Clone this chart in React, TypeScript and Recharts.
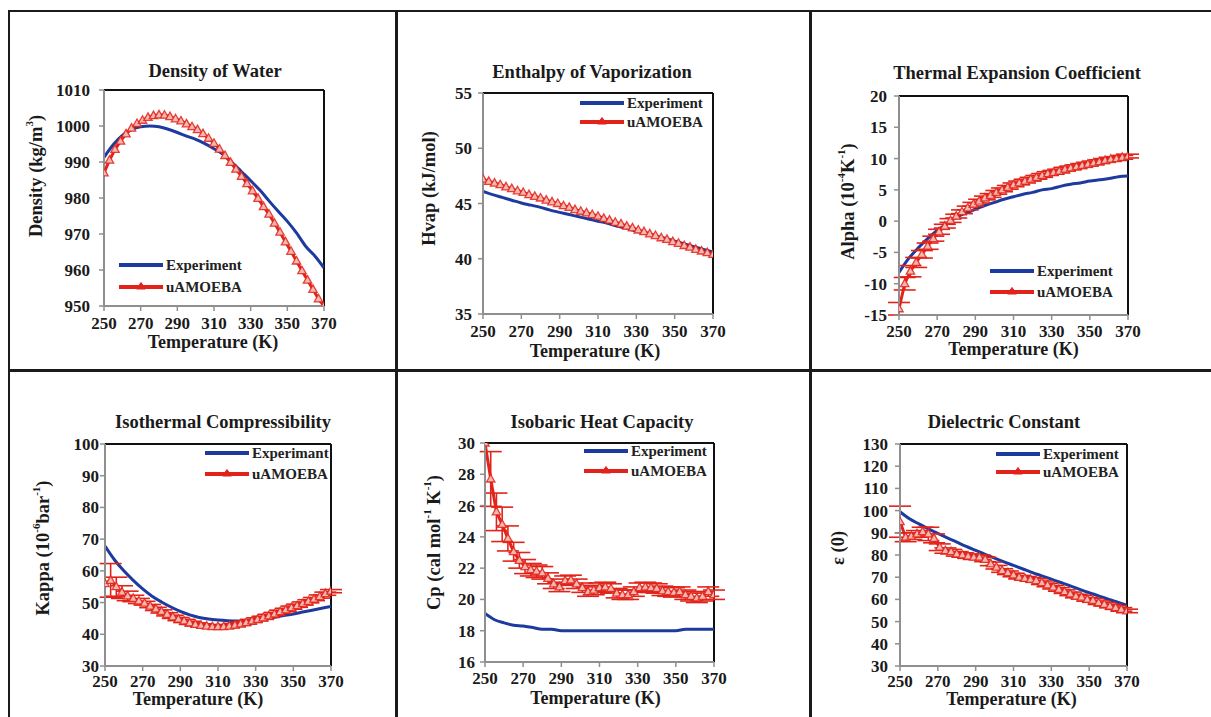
import { LineChart, Line, XAxis, YAxis, ErrorBar, ReferenceLine, Legend } from "recharts";

const FONT = '"Liberation Serif", "Times New Roman", serif';
const BLUE = "#1d3a9e";
const RED = "#e2231a";
const AXIS_GRAY = "#8f8f8f";

const tempTicks = [250, 270, 290, 310, 330, 350, 370];

// experiment curves are sampled every 5 K, simulation every 3 K
const expTemps = [250, 255, 260, 265, 270, 275, 280, 285, 290, 295, 300, 305, 310, 315, 320, 325, 330, 335, 340, 345, 350, 355, 360, 365, 370];
const simTemps = [250, 253, 256, 259, 262, 265, 268, 271, 274, 277, 280, 283, 286, 289, 292, 295, 298, 301, 304, 307, 310, 313, 316, 319, 322, 325, 328, 331, 334, 337, 340, 343, 346, 349, 352, 355, 358, 361, 364, 367, 370];

const densityExp = [991.3, 994.8, 997.4, 999.0, 999.8, 1000.0, 999.8, 999.1, 998.2, 997.2, 996.3, 995.1, 993.7, 992.1, 989.8, 987.3, 984.8, 982.2, 979.2, 976.3, 973.5, 970.3, 966.6, 963.9, 960.6];
const densitySim = [987.0, 990.5, 993.5, 995.8, 997.8, 999.4, 1000.7, 1001.6, 1002.4, 1002.9, 1003.1, 1003.0, 1002.6, 1002.0, 1001.4, 1000.6, 999.8, 999.0, 997.9, 996.6, 995.2, 993.6, 991.8, 989.9, 988.0, 986.0, 984.0, 982.0, 979.9, 977.6, 975.5, 973.0, 970.5, 967.8, 965.2, 962.5, 959.8, 957.2, 954.6, 952.0, 950.0];

const hvapExp = [46.1, 45.8, 45.55, 45.3, 45.05, 44.85, 44.65, 44.4, 44.2, 44.0, 43.8, 43.6, 43.4, 43.2, 42.95, 42.75, 42.5, 42.3, 42.05, 41.85, 41.6, 41.35, 41.1, 40.85, 40.6];
const hvapSim = [47.2, 47.0, 46.85, 46.7, 46.5, 46.35, 46.15, 46.0, 45.8, 45.65, 45.5, 45.3, 45.15, 45.0, 44.8, 44.65, 44.45, 44.3, 44.15, 44.0, 43.85, 43.65, 43.5, 43.3, 43.15, 42.95, 42.8, 42.6, 42.45, 42.25, 42.1, 41.9, 41.75, 41.55, 41.4, 41.2, 41.05, 40.85, 40.7, 40.55, 40.4];

const alphaExp = [-8.2, -6.0, -4.3, -2.8, -1.5, -0.4, 0.6, 1.3, 1.9, 2.5, 3.0, 3.5, 3.9, 4.3, 4.6, 5.0, 5.2, 5.6, 5.9, 6.1, 6.4, 6.6, 6.8, 7.1, 7.2];
const alphaSim = [-14.0, -10.0, -8.0, -6.6, -5.3, -4.0, -2.8, -1.7, -0.8, 0.1, 0.8, 1.5, 2.1, 2.7, 3.2, 3.7, 4.1, 4.6, 5.0, 5.4, 5.8, 6.1, 6.4, 6.7, 7.0, 7.3, 7.6, 7.8, 8.0, 8.3, 8.5, 8.7, 8.9, 9.1, 9.3, 9.5, 9.7, 9.9, 10.0, 10.2, 10.4];
const alphaErr = [1.0, 1.0, 0.9, 0.8, 0.6, 0.5, 0.4, 0.4, 0.3, 0.3, 0.3, 0.3, 0.3, 0.3, 0.3, 0.3, 0.3, 0.3, 0.3, 0.3, 0.3, 0.3, 0.3, 0.3, 0.3, 0.3, 0.3, 0.3, 0.3, 0.3, 0.3, 0.3, 0.3, 0.3, 0.3, 0.3, 0.3, 0.3, 0.3, 0.3, 0.3];

const kappaExp = [67.8, 63.5, 60.0, 57.0, 54.3, 52.0, 50.2, 48.6, 47.2, 46.1, 45.3, 44.8, 44.5, 44.3, 44.2, 44.3, 44.6, 45.0, 45.4, 45.9, 46.4, 47.0, 47.6, 48.2, 48.8];
const kappaSim = [56.0, 57.0, 55.0, 53.3, 52.1, 51.3, 50.5, 49.8, 48.9, 48.0, 47.2, 46.3, 45.5, 44.8, 44.2, 43.6, 43.1, 42.8, 42.6, 42.4, 42.4, 42.4, 42.6, 42.9, 43.3, 43.7, 44.2, 44.7, 45.2, 45.8, 46.4, 47.1, 47.7, 48.4, 49.0, 49.7, 50.4, 51.1, 51.9, 52.8, 53.6];
const kappaErr = [0, 5.3, 3.0, 2.0, 1.5, 1.0, 0.8, 0.6, 0.5, 0.5, 0.5, 0.5, 0.5, 0.5, 0.5, 0.5, 0.5, 0.5, 0.5, 0.5, 0.5, 0.5, 0.5, 0.5, 0.5, 0.5, 0.5, 0.5, 0.5, 0.5, 0.5, 0.5, 0.5, 0.5, 0.5, 0.5, 0.5, 0.5, 0.5, 0.5, 0.5];

const cpExp = [19.1, 18.7, 18.5, 18.35, 18.3, 18.2, 18.1, 18.1, 18.0, 18.0, 18.0, 18.0, 18.0, 18.0, 18.0, 18.0, 18.0, 18.0, 18.0, 18.0, 18.0, 18.1, 18.1, 18.1, 18.1];
const cpSim = [30.0, 27.7, 25.6, 24.8, 23.9, 23.05, 22.5, 22.1, 21.9, 21.8, 21.7, 21.35, 21.0, 20.8, 21.2, 21.25, 21.0, 20.75, 20.5, 20.6, 20.75, 20.8, 20.7, 20.4, 20.3, 20.3, 20.5, 20.75, 20.8, 20.75, 20.7, 20.55, 20.5, 20.45, 20.5, 20.3, 20.2, 20.1, 20.2, 20.5, 20.3];
const cpErr = [0, 1.75, 1.2, 1.1, 0.8, 0.6, 0.5, 0.45, 0.4, 0.4, 0.4, 0.35, 0.3, 0.3, 0.3, 0.3, 0.3, 0.3, 0.3, 0.3, 0.3, 0.3, 0.3, 0.3, 0.3, 0.3, 0.3, 0.3, 0.3, 0.3, 0.3, 0.3, 0.3, 0.3, 0.3, 0.3, 0.3, 0.3, 0.3, 0.3, 0.3];

const epsExp = [99.5, 96.3, 94.0, 91.8, 89.7, 87.7, 85.8, 83.9, 82.1, 80.3, 78.6, 76.9, 75.3, 73.7, 72.1, 70.6, 69.1, 67.6, 66.1, 64.5, 63.0, 61.6, 60.1, 58.7, 57.3];
const epsSim = [95.0, 88.0, 88.5, 89.5, 90.5, 89.5, 87.5, 83.5, 82.0, 81.5, 80.5, 80.0, 79.5, 79.0, 79.0, 78.0, 76.0, 74.5, 73.0, 72.0, 71.0, 70.0, 69.5, 69.0, 68.5, 67.5, 66.5, 65.5, 64.5, 63.5, 62.5, 61.5, 61.0, 60.0, 59.5, 58.5, 57.8, 57.0, 56.3, 55.5, 54.8];
const epsErr = [7.0, 2.0, 1.5, 1.5, 2.0, 3.0, 2.0, 1.5, 1.2, 1.0, 1.0, 1.0, 1.0, 1.0, 1.0, 1.0, 0.8, 0.8, 0.8, 0.8, 0.8, 0.8, 0.8, 0.8, 0.8, 0.8, 0.8, 0.8, 0.8, 0.8, 0.8, 0.8, 0.8, 0.8, 0.8, 0.8, 0.8, 0.8, 0.8, 0.8, 0.8];

type Part = { t: string; sup?: boolean };

interface PanelCfg {
  title: string;
  yLabel: Part[];
  expName: string;
  exp: number[];
  sim: number[];
  simErr?: number[];
  yDomain: [number, number];
  yTicks: number[];
  x0: number; y0: number; x1: number; y1: number;
  titleDx: number; titleDy: number;
  yLabDx: number; yLabDy: number;
  xLabDx: number; xLabDy: number;
  yTickMargin: number; xTickMargin: number;
  legX: number; legY: number; legRow: number;
}

const panels: PanelCfg[] = [
  {
    title: "Density of Water",
    yLabel: [{ t: "Density (kg/m" }, { t: "3", sup: true }, { t: ")" }],
    expName: "Experiment", exp: densityExp, sim: densitySim,
    yDomain: [950, 1010], yTicks: [950, 960, 970, 980, 990, 1000, 1010],
    x0: 104, y0: 90, x1: 324, y1: 306,
    titleDx: 1, titleDy: -19, yLabDx: -68, yLabDy: -22, xLabDx: -1, xLabDy: 36,
    yTickMargin: 9, xTickMargin: 6, legX: 119, legY: 265, legRow: 22,
  },
  {
    title: "Enthalpy of Vaporization",
    yLabel: [{ t: "Hvap (kJ/mol)" }],
    expName: "Experiment", exp: hvapExp, sim: hvapSim,
    yDomain: [35, 55], yTicks: [35, 40, 45, 50, 55],
    x0: 483, y0: 93, x1: 713, y1: 314,
    titleDx: -6, titleDy: -21, yLabDx: -54, yLabDy: -15, xLabDx: -3, xLabDy: 37,
    yTickMargin: 6, xTickMargin: 6, legX: 580, legY: 103, legRow: 19,
  },
  {
    title: "Thermal Expansion Coefficient",
    yLabel: [{ t: "Alpha (10" }, { t: "-4", sup: true }, { t: "K" }, { t: "-1", sup: true }, { t: ")" }],
    expName: "Experiment", exp: alphaExp, sim: alphaSim, simErr: alphaErr,
    yDomain: [-15, 20], yTicks: [-15, -10, -5, 0, 5, 10, 15, 20],
    x0: 899, y0: 96, x1: 1128, y1: 315,
    titleDx: 3.5, titleDy: -23, yLabDx: -51, yLabDy: -4, xLabDx: 0, xLabDy: 34,
    yTickMargin: 7, xTickMargin: 5, legX: 990, legY: 271, legRow: 21,
  },
  {
    title: "Isothermal Compressibility",
    yLabel: [{ t: "Kappa (10" }, { t: "-6", sup: true }, { t: "bar" }, { t: "-1", sup: true }, { t: ")" }],
    expName: "Experimant", exp: kappaExp, sim: kappaSim, simErr: kappaErr,
    yDomain: [30, 100], yTicks: [30, 40, 50, 60, 70, 80, 90, 100],
    x0: 105, y0: 444, x1: 331, y1: 666,
    titleDx: 5, titleDy: -22, yLabDx: -62, yLabDy: -7, xLabDx: -20, xLabDy: 33,
    yTickMargin: 1, xTickMargin: 4, legX: 205, legY: 453, legRow: 21,
  },
  {
    title: "Isobaric Heat Capacity",
    yLabel: [{ t: "Cp (cal mol" }, { t: "-1", sup: true }, { t: " K" }, { t: "-1", sup: true }, { t: ")" }],
    expName: "Experiment", exp: cpExp, sim: cpSim, simErr: cpErr,
    yDomain: [16, 30], yTicks: [16, 18, 20, 22, 24, 26, 28, 30],
    x0: 485, y0: 443, x1: 714, y1: 662,
    titleDx: 2.5, titleDy: -21, yLabDx: -51, yLabDy: -10, xLabDx: -4, xLabDy: 36,
    yTickMargin: 5, xTickMargin: 5, legX: 584, legY: 451, legRow: 20,
  },
  {
    title: "Dielectric Constant",
    yLabel: [{ t: "ε (0)" }],
    expName: "Experiment", exp: epsExp, sim: epsSim, simErr: epsErr,
    yDomain: [30, 130], yTicks: [30, 40, 50, 60, 70, 80, 90, 100, 110, 120, 130],
    x0: 900, y0: 444, x1: 1127, y1: 666,
    titleDx: -9.5, titleDy: -22, yLabDx: -62, yLabDy: -7, xLabDx: -2, xLabDy: 33,
    yTickMargin: 7, xTickMargin: 4, legX: 996, legY: 454, legRow: 18,
  },
];

const LEFT = 100;
const TOP = 40;
const RIGHT = 40;
const BOTTOM = 60;
const YW = 40;
const XH = 30;

function TriDot(props: any) {
  const { cx, cy, index } = props;
  if (typeof cx !== "number" || typeof cy !== "number") return <g key={`d${index}`} />;
  return (
    <path
      key={`d${index}`}
      d={`M${cx} ${cy - 4.5}L${cx + 4.2} ${cy + 3}L${cx - 4.2} ${cy + 3}Z`}
      fill="#f4b8b1"
      stroke={RED}
      strokeWidth={1.3}
      strokeOpacity={0.85}
    />
  );
}

function makeLegend(rowH: number) {
  return (props: any) => {
    const items = props.payload ?? [];
    return (
      <div style={{ fontFamily: FONT, fontWeight: 700, fontSize: 15, color: "#222" }}>
        {items.map((it: any, i: number) => (
          <div key={i} style={{ display: "flex", alignItems: "center", height: rowH, whiteSpace: "nowrap" }}>
            <svg width={47} height={12} style={{ display: "block" }}>
              <line x1={0} y1={6} x2={44} y2={6} stroke={it.color} strokeWidth={4} />
              {it.color === RED && <path d="M22 1.5L26.5 8L17.5 8Z" fill={RED} stroke={RED} strokeWidth={1} />}
            </svg>
            <span style={{ lineHeight: 1 }}>{it.value}</span>
          </div>
        ))}
      </div>
    );
  };
}

function Panel({ cfg }: { cfg: PanelCfg }) {
  const pw = cfg.x1 - cfg.x0;
  const ph = cfg.y1 - cfg.y0;
  const W = pw + LEFT + RIGHT;
  const H = ph + TOP + BOTTOM;
  const left = cfg.x0 - LEFT;
  const top = cfg.y0 - TOP;

  const expData = expTemps.map((t, i) => ({ t, v: cfg.exp[i] }));
  const simData = simTemps.map((t, i) => ({ t, v: cfg.sim[i], err: cfg.simErr ? cfg.simErr[i] : 0 }));

  const tickStyle = { fill: "#1a1a1a", fontSize: 17, fontWeight: 700, fontFamily: FONT };

  const yLabel = () => {
    const cx = LEFT + cfg.yLabDx;
    const cy = TOP + ph / 2 + cfg.yLabDy;
    let shifted = false;
    return (
      <text
        transform={`translate(${cx},${cy}) rotate(-90)`}
        textAnchor="middle"
        dominantBaseline="central"
        fontFamily={FONT}
        fontWeight={700}
        fontSize={18.5}
        fill="#1a1a1a"
      >
        {cfg.yLabel.map((p, i) => {
          if (p.sup) {
            shifted = true;
            return <tspan key={i} fontSize={11} dy={-7}>{p.t}</tspan>;
          }
          const dy = shifted ? 7 : 0;
          shifted = false;
          return <tspan key={i} dy={dy}>{p.t}</tspan>;
        })}
      </text>
    );
  };

  const xLabel = () => (
    <text
      x={LEFT + pw / 2 + cfg.xLabDx}
      y={TOP + ph + cfg.xLabDy}
      textAnchor="middle"
      dominantBaseline="central"
      fontFamily={FONT}
      fontWeight={700}
      fontSize={18}
      fill="#1a1a1a"
    >
      Temperature (K)
    </text>
  );

  return (
    <>
      <div
        style={{
          position: "absolute",
          left: (cfg.x0 + cfg.x1) / 2 + cfg.titleDx - 200,
          top: cfg.y0 + cfg.titleDy - 12,
          width: 400,
          textAlign: "center",
          fontFamily: FONT,
          fontWeight: 700,
          fontSize: 18.5,
          lineHeight: "24px",
          color: "#1a1a1a",
        }}
      >
        {cfg.title}
      </div>
      <div style={{ position: "absolute", left, top }}>
        <LineChart width={W} height={H} margin={{ top: TOP, right: RIGHT, bottom: BOTTOM - XH, left: LEFT - YW }}>
          <XAxis
            dataKey="t"
            type="number"
            domain={[250, 370]}
            ticks={tempTicks}
            interval={0}
            allowDataOverflow
            height={XH}
            axisLine={{ stroke: AXIS_GRAY, strokeWidth: 2 }}
            tickLine={{ stroke: AXIS_GRAY, strokeWidth: 1.5 }}
            tickSize={5}
            tickMargin={cfg.xTickMargin}
            tick={tickStyle}
            label={xLabel}
          />
          <YAxis
            type="number"
            domain={cfg.yDomain}
            ticks={cfg.yTicks}
            interval={0}
            allowDataOverflow
            width={YW}
            axisLine={{ stroke: AXIS_GRAY, strokeWidth: 2 }}
            tickLine={{ stroke: AXIS_GRAY, strokeWidth: 1.5 }}
            tickSize={5}
            tickMargin={cfg.yTickMargin}
            tick={tickStyle}
            label={yLabel}
          />
          <ReferenceLine y={cfg.yDomain[1]} stroke="#111" strokeWidth={2} />
          <ReferenceLine x={370} stroke="#111" strokeWidth={2} />
          <Line
            data={expData}
            dataKey="v"
            name={cfg.expName}
            type="monotone"
            stroke={BLUE}
            strokeWidth={3}
            dot={false}
            isAnimationActive={false}
          />
          <Line
            data={simData}
            dataKey="v"
            name="uAMOEBA"
            type="linear"
            stroke={RED}
            strokeWidth={3}
            dot={TriDot}
            isAnimationActive={false}
          >
            {cfg.simErr && (
              <ErrorBar dataKey="err" direction="y" width={11} stroke={RED} strokeWidth={1.6} isAnimationActive={false} />
            )}
          </Line>
          <Legend
            layout="vertical"
            align="center"
            verticalAlign="middle"
            content={makeLegend(cfg.legRow)}
            wrapperStyle={{ left: cfg.legX - left, top: cfg.legY - cfg.legRow / 2 - top, width: "auto" }}
          />
        </LineChart>
      </div>
    </>
  );
}

const lineStyle = { position: "absolute" as const, background: "#1b1b1b" };

export default function App() {
  return (
    <div style={{ position: "absolute", left: 0, top: 0, width: 1211, height: 717, background: "#fff", overflow: "hidden" }}>
      {panels.map((p, i) => (
        <Panel key={i} cfg={p} />
      ))}
      <div style={{ ...lineStyle, left: 9, top: 10, width: 1202, height: 2 }} />
      <div style={{ ...lineStyle, left: 9, top: 369, width: 1202, height: 2.5 }} />
      <div style={{ ...lineStyle, left: 8, top: 10, width: 2, height: 707 }} />
      <div style={{ ...lineStyle, left: 395, top: 10, width: 2.5, height: 707 }} />
      <div style={{ ...lineStyle, left: 809, top: 10, width: 2.5, height: 707 }} />
    </div>
  );
}
